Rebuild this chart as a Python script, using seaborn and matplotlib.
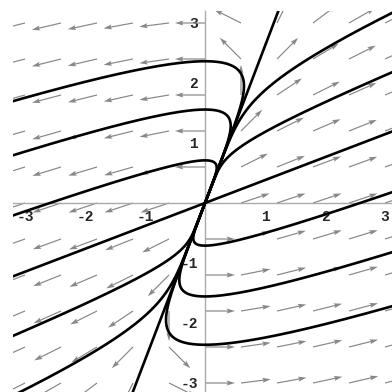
import numpy as np
import pandas as pd
import matplotlib
matplotlib.use("Agg")
import matplotlib.pyplot as plt
import seaborn as sns

# linear system x' = 3x - y, y' = x
A = np.array([[3.0, -1.0],
              [1.0, 0.0]])

# solution curves pass through these points on the right edge (and their mirror images)
start_x = 3.12
start_y = [3.17, 2.18, 0.18, -0.82, -1.72]

grid = [-3.0, -2.4, -1.8, -1.2, -0.6, 0.0, 0.6, 1.2, 1.8, 2.4, 3.0]
ticks = [-3, -2, -1, 1, 2, 3]
tick_labels = ["-3", "-2", "-1", "1", "2", "3"]

lam, V = np.linalg.eig(A)
Vinv = np.linalg.inv(V)
t = np.linspace(-16, 2, 4000)

rows = []
cid = 0
for sign in [1, -1]:
    for y0 in start_y:
        p0 = sign * np.array([start_x, y0])
        c = Vinv @ p0
        pts = (V @ (c[:, None] * np.exp(np.outer(lam, t)))).real
        for xx, yy in zip(pts[0], pts[1]):
            rows.append((cid, xx, yy))
        cid += 1
# straight-line solutions along the eigenvectors
for k in range(2):
    v = V[:, k].real
    for s in [-6, 6]:
        rows.append((cid, 0.0, 0.0))
        rows.append((cid, s * v[0], s * v[1]))
        cid += 1
curves = pd.DataFrame(rows, columns=["curve", "x", "y"])

sns.set_style("white")
fig = plt.figure(figsize=(3.92, 3.92), dpi=100)
ax = fig.add_axes([13 / 392, -3 / 392, 384 / 392, 384 / 392])

# direction field, unit-length arrows
gx, gy = np.meshgrid(grid, grid)
u = A[0, 0] * gx + A[0, 1] * gy
w = A[1, 0] * gx + A[1, 1] * gy
mag = np.hypot(u, w)
mag[mag == 0] = np.nan
ax.quiver(gx, gy, 0.5 * u / mag, 0.5 * w / mag, angles="xy", scale_units="xy", scale=1,
          pivot="tail", color="#888888", units="dots", width=1.2, headwidth=4.2,
          headlength=7, headaxislength=6, zorder=1)

sns.lineplot(data=curves, x="x", y="y", units="curve", estimator=None, sort=False,
             color="black", lw=1.9, ax=ax, zorder=3, legend=False)

ax.set_xlim(-3.2, 3.2)
ax.set_ylim(-3.2, 3.2)
ax.set_xlabel("")
ax.set_ylabel("")
for side in ["top", "right"]:
    ax.spines[side].set_visible(False)
for side in ["left", "bottom"]:
    ax.spines[side].set_position(("data", 0))
    ax.spines[side].set_color("#aaaaaa")
    ax.spines[side].set_linewidth(1.0)
    ax.spines[side].set_zorder(2)
ax.set_xticks(ticks)
ax.set_xticklabels(tick_labels)
ax.set_yticks(ticks)
ax.set_yticklabels(tick_labels)
ax.tick_params(direction="in", length=2.5, width=0.8, color="#333333", pad=5)
for lab in ax.get_xticklabels() + ax.get_yticklabels():
    lab.set_family("Liberation Mono")
    lab.set_fontweight("bold")
    lab.set_fontsize(10.5)
ax.patch.set_alpha(0)

fig.savefig("out.png", dpi=100)
